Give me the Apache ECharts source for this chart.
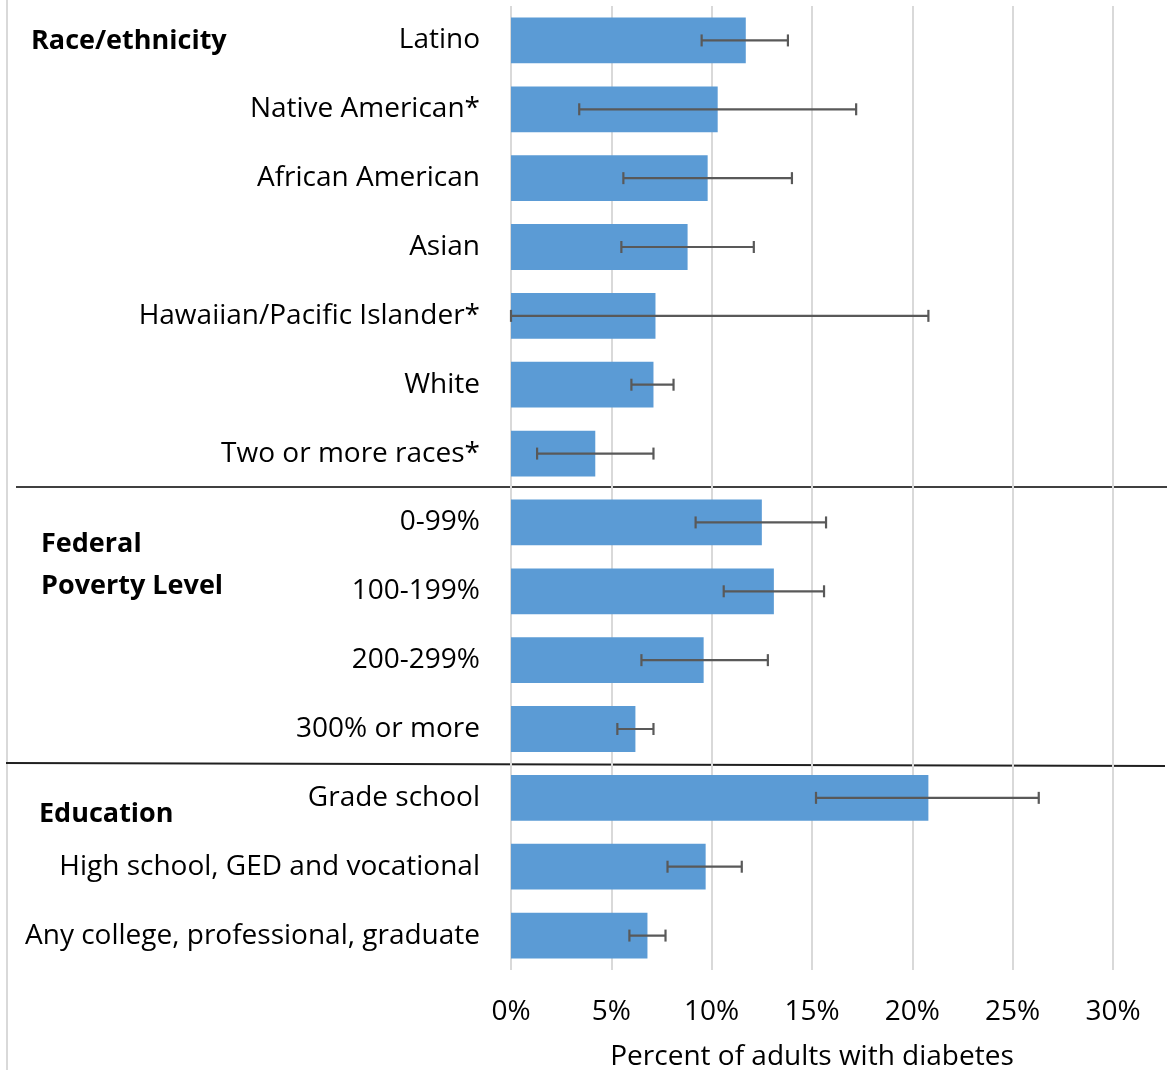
<!DOCTYPE html>
<html><head><meta charset="utf-8">
<script src="https://cdn.jsdelivr.net/npm/echarts@6/dist/echarts.min.js"></script>
<style>html,body{margin:0;padding:0;background:#fff}#c{width:1167px;height:1070px}</style>
</head><body><div id="c"></div>
<script>
const categories = ["Latino","Native American*","African American","Asian","Hawaiian/Pacific Islander*","White","Two or more races*","0-99%","100-199%","200-299%","300% or more","Grade school","High school, GED and vocational","Any college, professional, graduate"];
const values = [11.7,10.3,9.8,8.8,7.2,7.1,4.2,12.5,13.1,9.6,6.2,20.8,9.7,6.8];
const lower  = [9.5,3.4,5.6,5.5,0,6.0,1.3,9.2,10.6,6.5,5.3,15.2,7.8,5.9];
const upper  = [13.8,17.2,14.0,12.1,20.8,8.1,7.1,15.7,15.6,12.8,7.1,26.3,11.5,7.7];
const xTicks = [0,5,10,15,20,25,30];
const groupLabels = ["Race/ethnicity","Federal\nPoverty Level","Education"];
const axisTitle = "Percent of adults with diabetes";

const FONT = "Open Sans";
const FS = 28;
const chart = echarts.init(document.getElementById('c'), null, {renderer:'canvas'});
const errData = categories.map((c,i)=>[i, lower[i], upper[i]]);
chart.setOption({
  animation:false,
  grid:{left:511, right:54, top:6, bottom:100, containLabel:false, outerBoundsMode:'none'},
  xAxis:{type:'value', min:xTicks[0], max:xTicks[xTicks.length-1], interval:5,
    axisLine:{show:false}, axisTick:{show:false},
    splitLine:{show:true, lineStyle:{color:'#d9d9d9', width:2}},
    axisLabel:{formatter:'{value}%', fontFamily:FONT, fontSize:FS, color:'#000', margin:28},
    name:axisTitle, nameLocation:'middle', nameGap:73,
    nameTextStyle:{fontFamily:FONT, fontSize:FS, color:'#000'}},
  yAxis:{type:'category', data:categories, inverse:true,
    axisLine:{show:false}, axisTick:{show:false},
    axisLabel:{fontFamily:FONT, fontSize:FS, color:'#000', margin:31}},
  series:[
    {type:'bar', data:values, barCategoryGap:'33.5%', itemStyle:{color:'#5B9BD5'}, z:2},
    {type:'custom', z:3, data:errData, encode:{x:[1,2], y:0},
      renderItem:function(params, api){
        const y = api.value(0);
        const p1 = api.coord([api.value(1), y]);
        const p2 = api.coord([api.value(2), y]);
        const h = 6;
        const st = {stroke:'#595959', lineWidth:2.2};
        return {type:'group', children:[
          {type:'line', shape:{x1:p1[0],y1:p1[1],x2:p2[0],y2:p2[1]}, style:st},
          {type:'line', shape:{x1:p1[0],y1:p1[1]-h,x2:p1[0],y2:p1[1]+h}, style:st},
          {type:'line', shape:{x1:p2[0],y1:p2[1]-h,x2:p2[0],y2:p2[1]+h}, style:st}
        ]};
      }}
  ],
  graphic:[
    {type:'line', shape:{x1:7,y1:0,x2:7,y2:1070}, style:{stroke:'#d9d9d9', lineWidth:2}},
    {type:'line', shape:{x1:16,y1:487,x2:1167,y2:487}, style:{stroke:'#404040', lineWidth:2}},
    {type:'line', shape:{x1:6,y1:763,x2:1165,y2:766}, style:{stroke:'#202020', lineWidth:2}},
    {type:'text', left:31, top:28, style:{text:groupLabels[0], font:'bold 27px '+FONT, fill:'#000'}},
    {type:'text', left:41, top:523, style:{text:groupLabels[1], font:'bold 27px '+FONT, fill:'#000', lineHeight:42}},
    {type:'text', left:39, top:801, style:{text:groupLabels[2], font:'bold 27px '+FONT, fill:'#000'}}
  ]
});
</script></body></html>
